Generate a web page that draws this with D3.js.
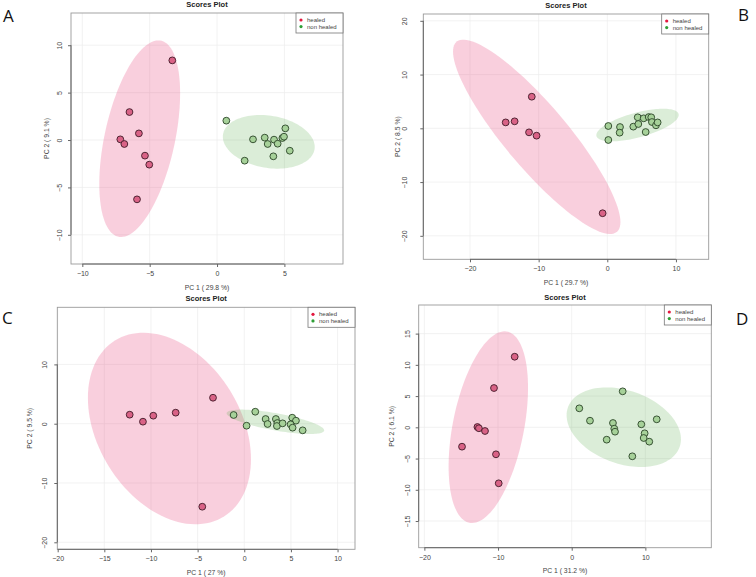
<!DOCTYPE html>
<html><head><meta charset="utf-8">
<script src="https://cdn.jsdelivr.net/npm/d3@7"></script>
<style>body{margin:0;background:#fff;} svg{display:block;}</style>
</head><body><svg id="c" width="756" height="577"></svg>
<script>
// ---------- DATA ----------
const panelLetters = ["A", "B", "C", "D"];
const chartTitle = "Scores Plot";
const xTitles = ["PC 1 ( 29.8 %)", "PC 1 ( 29.7 %)", "PC 1 ( 27 %)", "PC 1 ( 31.2 %)"];
const yTitles = ["PC 2 ( 9.1 %)", "PC 2 ( 8.5 %)", "PC 2 ( 9.5 %)", "PC 2 ( 6.1 %)"];
const groups = ["healed", "non healed"];

const aXTicks = [-10, -5, 0, 5];
const aYTicks = [-10, -5, 0, 5, 10];
const bXTicks = [-20, -10, 0, 10];
const bYTicks = [-20, -10, 0, 10, 20];
const cXTicks = [-20, -15, -10, -5, 0, 5, 10];
const cYTicks = [-20, -10, 0, 10];
const dXTicks = [-20, -10, 0, 10];
const dYTicks = [-15, -10, -5, 0, 5, 10, 15];

const aHealed = [[-3.32, 8.4], [-6.5, 2.95], [-5.8, 0.7], [-7.18, 0.07], [-6.88, -0.42], [-5.35, -1.65], [-5.03, -2.6], [-5.94, -6.26]];
const aNonHealed = [[0.69, 2.04], [2.67, 0.07], [2.05, -2.18], [3.54, 0.25], [3.76, -0.42], [4.23, 0.04], [4.5, -0.39], [4.18, -1.72], [4.85, 0.21], [4.97, 0.35], [5.07, 1.23], [5.4, -1.13]];
const bHealed = [[-11.0, 5.88], [-14.8, 1.1], [-13.5, 1.3], [-11.4, -0.75], [-10.3, -1.37], [-0.68, -15.8]];
const bNonHealed = [[0.15, 0.43], [0.15, -2.17], [1.85, 0.24], [1.8, -0.81], [3.79, 0.31], [4.43, 2.05], [4.52, 0.8], [5.3, 1.86], [5.59, -0.69], [6.03, 2.1], [6.4, 2.05], [6.5, 1.17], [7.09, 0.56], [7.33, 1.1]];
const cHealed = [[-12.28, 1.52], [-10.86, 0.34], [-9.75, 1.35], [-7.35, 1.86], [-3.35, 4.38], [-4.5, -14.0]];
const cNonHealed = [[-1.14, 1.47], [0.25, -0.34], [1.18, 2.02], [2.29, 0.79], [2.5, -0.05], [3.39, 0.79], [3.54, 0.11], [3.5, -0.39], [4.11, 0.06], [5.14, 1.01], [5.54, 0.51], [4.97, -0.11], [5.18, -0.67], [6.26, -1.12]];
const dHealed = [[-7.74, 11.3], [-10.55, 6.29], [-12.8, 0.05], [-12.6, -0.15], [-11.77, -0.59], [-14.89, -3.1], [-10.28, -4.32], [-9.91, -8.96]];
const dNonHealed = [[6.92, 5.76], [1.03, 3.04], [2.48, 1.06], [5.6, 0.69], [5.78, -0.22], [5.88, -0.7], [4.75, -1.98], [9.45, 0.48], [9.9, -0.96], [9.77, -1.71], [10.53, -2.3], [11.54, 1.28], [8.23, -4.64]];

// ellipses: [centerX, centerY, sdX, sdY, correlation]
const aEllHealed = [-5.74, 0.14, 3.0, 10.37, 0.46];
const aEllNonHealed = [3.84, -0.19, 3.41, 2.83, -0.19];
const bEllHealed = [-10.28, -1.58, 12.19, 18.08, -0.877];
const bEllNonHealed = [4.4, 0.61, 6.0, 3.03, 0.62];
const cEllHealed = [-8.02, -0.81, 8.74, 16.15, -0.32];
const cEllNonHealed = [3.34, 0.32, 5.23, 2.06, -0.7];
const dEllHealed = [-11.32, 0.02, 5.39, 15.34, 0.41];
const dEllNonHealed = [7.07, 0.02, 7.76, 6.37, -0.3];

// ---------- LAYOUT ----------
const panels = [
  {box: [71, 13, 343, 264], xd: [-10.84, 9.35], yd: [-13.08, 13.40], xt: aXTicks, yt: aYTicks,
   healed: aHealed, non: aNonHealed, eH: aEllHealed, eN: aEllNonHealed, ylab: 11, ytit: 24, titleY: 7, letter: [3, 22]},
  {box: [423.3, 14, 708.7, 259.3], xd: [-26.8, 14.77], yd: [-24.37, 21.27], xt: bXTicks, yt: bYTicks,
   healed: bHealed, non: bNonHealed, eH: bEllHealed, eN: bEllNonHealed, ylab: 18.6, ytit: 25.3, titleY: 8, letter: [738, 21]},
  {box: [57.3, 307.3, 355, 549.3], xd: [-20.04, 11.87], yd: [-21.18, 19.63], xt: cXTicks, yt: cYTicks,
   healed: cHealed, non: cNonHealed, eH: cEllHealed, eN: cEllNonHealed, ylab: 12.3, ytit: 28, titleY: 301, letter: [2, 324]},
  {box: [418.7, 305, 711.3, 547.7], xd: [-20.77, 18.95], yd: [-19.27, 19.58], xt: dXTicks, yt: dYTicks,
   healed: dHealed, non: dNonHealed, eH: dEllHealed, eN: dEllNonHealed, ylab: 10.7, ytit: 26.7, titleY: 299.5, letter: [736, 325]}
];

const svg = d3.select("#c");
const font = "'Liberation Sans', Arial, sans-serif";
const colHealedPt = "#d96286", colHealedStroke = "#3f1a27";
const colNonPt = "#a6d199", colNonStroke = "#2a4427";
const legendCols = ["#e3173f", "#2e9e35"];

function ellipsePts(e) {
  const [cx, cy, sx, sy, r] = e;
  const k = Math.sqrt(1 - r * r);
  return d3.range(0, 121).map(i => {
    const t = i / 120 * 2 * Math.PI;
    return [cx + sx * Math.cos(t), cy + sy * (r * Math.cos(t) + k * Math.sin(t))];
  });
}

panels.forEach((p, i) => {
  const [x0, y0, x1, y1] = p.box;
  const x = d3.scaleLinear().domain(p.xd).range([x0, x1]);
  const y = d3.scaleLinear().domain(p.yd).range([y1, y0]);
  const g = svg.append("g");

  // grid
  g.selectAll(".gx").data(p.xt).join("line")
    .attr("x1", d => x(d)).attr("x2", d => x(d)).attr("y1", y0).attr("y2", y1)
    .attr("stroke", "#ececec").attr("stroke-width", 0.7);
  g.selectAll(".gy").data(p.yt).join("line")
    .attr("y1", d => y(d)).attr("y2", d => y(d)).attr("x1", x0).attr("x2", x1)
    .attr("stroke", "#ececec").attr("stroke-width", 0.7);

  // ellipses
  const line = d3.line().x(d => x(d[0])).y(d => y(d[1]));
  g.append("path").attr("d", line(ellipsePts(p.eH)) + "Z")
    .attr("fill", "#ea4f82").attr("fill-opacity", 0.27);
  g.append("path").attr("d", line(ellipsePts(p.eN)) + "Z")
    .attr("fill", "#5dab4c").attr("fill-opacity", 0.22);

  // points
  g.selectAll(".ph").data(p.healed).join("circle")
    .attr("cx", d => x(d[0])).attr("cy", d => y(d[1])).attr("r", 3.4)
    .attr("fill", colHealedPt).attr("stroke", colHealedStroke).attr("stroke-width", 0.9);
  g.selectAll(".pn").data(p.non).join("circle")
    .attr("cx", d => x(d[0])).attr("cy", d => y(d[1])).attr("r", 3.4)
    .attr("fill", colNonPt).attr("stroke", colNonStroke).attr("stroke-width", 0.9);

  // box
  g.append("rect").attr("x", x0).attr("y", y0).attr("width", x1 - x0).attr("height", y1 - y0)
    .attr("fill", "none").attr("stroke", "#9a9a9a").attr("stroke-width", 0.9);

  // axes
  const ax = g.append("g").attr("transform", `translate(0,${y1})`)
    .call(d3.axisBottom(x).tickValues(p.xt).tickSize(3).tickPadding(4).tickFormat(d3.format("d")));
  ax.select(".domain").remove();
  ax.append("line").attr("x1", x(p.xt[0])).attr("x2", x(p.xt[p.xt.length - 1]))
    .attr("stroke", "#666").attr("stroke-width", 1);
  ax.selectAll(".tick line").attr("stroke", "#666");
  ax.selectAll("text").attr("font-family", font).attr("font-size", 7).attr("fill", "#444");

  const ay = g.append("g").attr("transform", `translate(${x0},0)`)
    .call(d3.axisLeft(y).tickValues(p.yt).tickSize(3).tickFormat(d3.format("d")));
  ay.select(".domain").remove();
  ay.append("line").attr("y1", y(p.yt[0])).attr("y2", y(p.yt[p.yt.length - 1]))
    .attr("stroke", "#666").attr("stroke-width", 1);
  ay.selectAll(".tick line").attr("stroke", "#666");
  ay.selectAll("text").attr("font-family", font).attr("font-size", 7).attr("fill", "#444")
    .attr("x", 0).attr("y", 0).attr("dy", "0.35em").attr("text-anchor", "middle")
    .attr("transform", `translate(${-p.ylab},0) rotate(-90)`);

  const cxm = (x0 + x1) / 2, cym = (y0 + y1) / 2;
  // titles
  g.append("text").attr("x", cxm).attr("y", p.titleY).attr("text-anchor", "middle")
    .attr("font-family", font).attr("font-size", 7.5).attr("font-weight", "bold").attr("fill", "#222")
    .text(chartTitle);
  g.append("text").attr("x", cxm).attr("y", y1 + 25.5).attr("text-anchor", "middle")
    .attr("font-family", font).attr("font-size", 6.8).attr("fill", "#444").text(xTitles[i]);
  g.append("text").attr("transform", `translate(${x0 - p.ytit},${cym}) rotate(-90)`)
    .attr("text-anchor", "middle").attr("dy", "0.35em")
    .attr("font-family", font).attr("font-size", 6.8).attr("fill", "#444").text(yTitles[i]);

  // legend
  const lw = 47, lh = 20;
  const lg = g.append("g").attr("transform", `translate(${x1 - lw},${y0})`);
  lg.append("rect").attr("width", lw).attr("height", lh).attr("fill", "#fff")
    .attr("stroke", "#777").attr("stroke-width", 0.8);
  groups.forEach((gr, j) => {
    lg.append("circle").attr("cx", 5).attr("cy", 7 + j * 6.6).attr("r", 1.6).attr("fill", legendCols[j]);
    lg.append("text").attr("x", 11).attr("y", 7 + j * 6.6).attr("dy", "0.35em")
      .attr("font-family", font).attr("font-size", 6).attr("fill", "#444").text(gr);
  });

  // panel letter
  svg.append("text").attr("x", p.letter[0]).attr("y", p.letter[1])
    .attr("font-family", "'Open Sans', 'DejaVu Sans', sans-serif").attr("font-size", 17).attr("fill", "#111")
    .text(panelLetters[i]);
});
</script></body></html>
